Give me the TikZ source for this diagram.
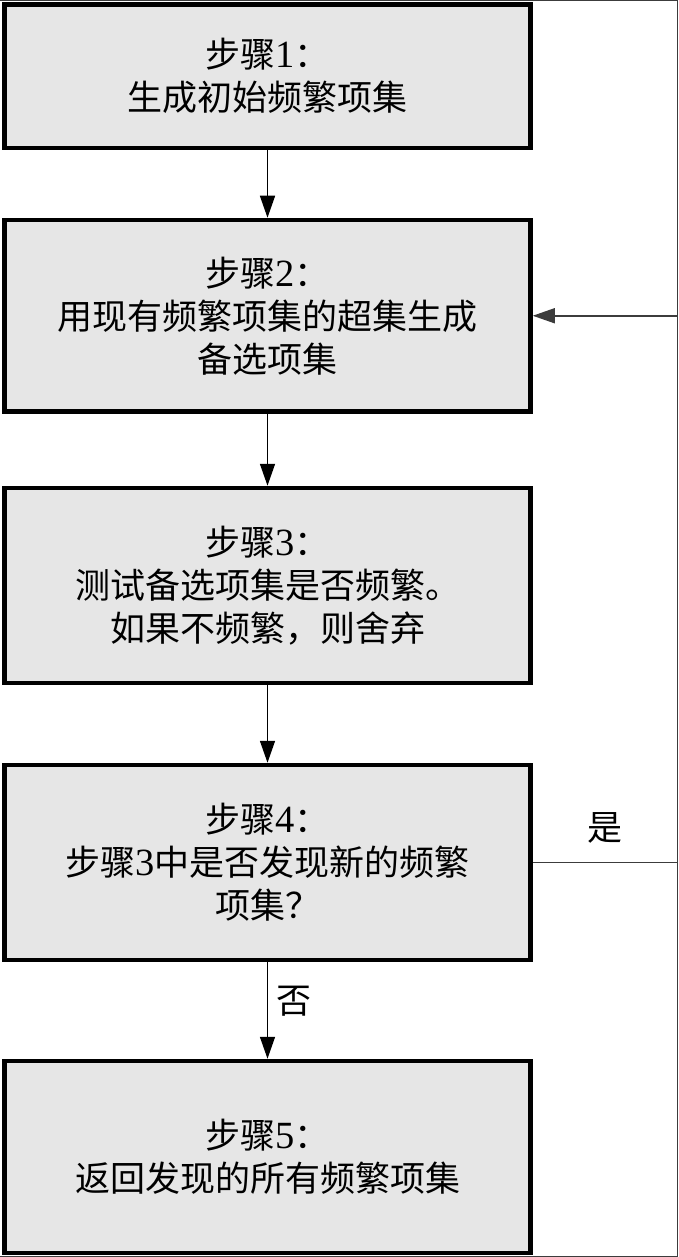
\documentclass[tikz,border=0pt]{standalone}
\usepackage{fontspec}
\usepackage{tikz}
\usetikzlibrary{positioning,arrows.meta}
\newfontfamily\cjkFont{Noto Sans CJK SC}
\newfontfamily\numFont[Scale=1.1]{Liberation Serif}
\definecolor{boxGray}{RGB}{230,230,230}
\definecolor{lineGray}{RGB}{60,60,60}
\tikzstyle{stepBox} = [draw=black, fill=boxGray, line width=4.5pt, minimum width=526pt, align=center, inner sep=0pt, font=\cjkFont\fontsize{35}{43}\selectfont]
\tikzstyle{flowLine} = [color=black, line width=1.5pt, -{Triangle[length=22pt,width=15pt]}]
\tikzstyle{backLine} = [color=lineGray, line width=1.5pt, -{Triangle[length=22pt,width=15pt]}]
\tikzstyle{frameLine} = [color=lineGray, line width=1.2pt]
\tikzstyle{branchText} = [font=\cjkFont\fontsize{35}{43}\selectfont, inner sep=0pt]
\newcommand{\stepNum}[1]{{\numFont #1}}
\newcommand{\stepNode}[4]{\node [stepBox, minimum height=#3pt] (#1) at (267.5, #2) {#4};}

\begin{document}
\begin{tikzpicture}[x=1pt, y=-1pt]
      \useasboundingbox (0,0) rectangle (679,1257);
      \draw [frameLine] (0,0.6) -- (677.5,0.6) -- (677.5,1256.4) -- (0,1256.4);

      \stepNode{stepOne}{76.25}{143.5}{步骤\stepNum{1}：\\生成初始频繁项集}
      \stepNode{stepTwo}{315.75}{191.5}{步骤\stepNum{2}：\\用现有频繁项集的超集生成\\备选项集}
      \stepNode{stepThree}{585.5}{195}{步骤\stepNum{3}：\\测试备选项集是否频繁。\\如果不频繁，则舍弃}
      \stepNode{stepFour}{862.5}{195}{步骤\stepNum{4}：\\步骤\stepNum{3}中是否发现新的频繁\\项集？}
      \stepNode{stepFive}{1157}{192}{步骤\stepNum{5}：\\返回发现的所有频繁项集}

      \draw [flowLine] (stepOne) -- (stepTwo);
      \draw [flowLine] (stepTwo) -- (stepThree);
      \draw [flowLine] (stepThree) -- (stepFour);
      \draw [flowLine] (stepFour) -- (stepFive);

      \coordinate (loopBottom) at (677.5, 862.5);
      \coordinate (loopTop) at (677.5, 315.75);
      \draw [backLine] (stepFour.east) -- (loopBottom) -- (loopTop) -- (stepTwo.east);

      \node [branchText] (yesText) at (605, 828) {是};
      \node [branchText] (noText) at (294, 1001) {否};
    \end{tikzpicture}
\end{document}
